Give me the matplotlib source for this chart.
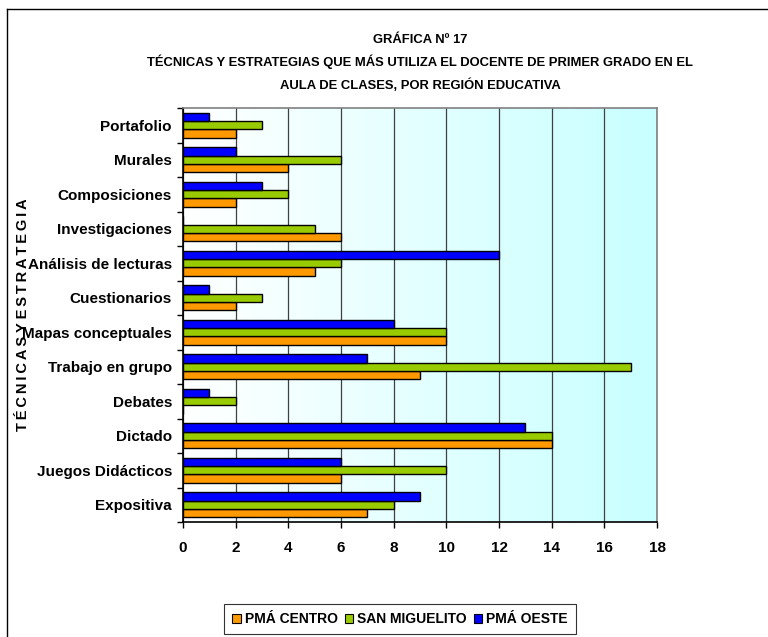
import numpy as np
import matplotlib
matplotlib.use("Agg")
import matplotlib.pyplot as plt
from matplotlib.lines import Line2D
from matplotlib.patches import Patch
from matplotlib.transforms import Bbox, TransformedBbox

# --- data (bottom to top, as drawn) ---
categories = ["Expositiva", "Juegos Didácticos", "Dictado", "Debates",
              "Trabajo en grupo", "Mapas conceptuales", "Cuestionarios",
              "Análisis de lecturas", "Investigaciones", "Composiciones",
              "Murales", "Portafolio"]
pma_centro    = [7, 6, 14, 0, 9, 10, 2, 5, 6, 2, 4, 2]
san_miguelito = [8, 10, 14, 2, 17, 10, 3, 6, 5, 4, 6, 3]
pma_oeste     = [9, 6, 13, 1, 7, 8, 1, 12, 0, 3, 2, 1]
series_names = ["PMÁ CENTRO", "SAN MIGUELITO", "PMÁ OESTE"]
x_ticks = list(range(0, 20, 2))

colors = ["#FF9900", "#99CC00", "#0000FF"]
fonts = ["Liberation Sans", "DejaVu Sans"]

W, H = 768, 637
fig = plt.figure(figsize=(W / 100, H / 100), dpi=100)
ax = fig.add_axes([183 / W, 1 - 522 / H, (657 - 183) / W, (522 - 108) / H])

# --- background gradient white -> light cyan ---
grad = np.linspace(0, 1, 256).reshape(1, -1)
cmap = matplotlib.colors.LinearSegmentedColormap.from_list("bg", ["#FFFFFF", "#C8FFFF"])
ax.imshow(grad, cmap=cmap, aspect="auto", extent=[0, 18, -0.5, len(categories) - 0.5],
          zorder=0)

# --- bars ---
y = np.arange(len(categories))
h = 0.24
for vals, off, col, name in zip([pma_centro, san_miguelito, pma_oeste], [-h, 0, h],
                                colors, series_names):
    ax.barh(y + off, vals, height=h, color=col, edgecolor="black", linewidth=1.0,
            zorder=3, label=name)

ax.set_xlim(0, 18)
ax.set_ylim(-0.5, len(categories) - 0.5)
ax.set_xticks(x_ticks)
ax.set_xticklabels([str(v) for v in x_ticks], fontsize=11, fontweight="bold", family=fonts)
ax.grid(axis="x", color="#404040", linewidth=0.9, zorder=1)

ax.set_yticks(y)
ax.set_yticklabels(categories, fontsize=11, fontweight="bold", family=fonts)
ax.set_yticks(np.arange(-0.5, len(categories), 1), minor=True)
ax.tick_params(axis="y", which="major", length=0, pad=8)
ax.tick_params(axis="y", which="minor", length=4, width=1, color="black", direction="out")
ax.tick_params(axis="x", length=4, width=1, color="black", direction="out", pad=10)

for side in ["top", "right"]:
    ax.spines[side].set_color("#808080")
    ax.spines[side].set_linewidth(1.2)
for side in ["left", "bottom"]:
    ax.spines[side].set_color("black")
    ax.spines[side].set_linewidth(1.2)

# --- title (condensed look in the original, so a slightly smaller size) ---
title_lines = ["GRÁFICA Nº 17",
               "TÉCNICAS Y ESTRATEGIAS QUE MÁS UTILIZA EL DOCENTE DE PRIMER GRADO EN EL",
               "AULA DE CLASES, POR REGIÓN EDUCATIVA"]
for line, ypx in zip(title_lines, [40, 62, 85]):
    fig.text(420 / W, 1 - ypx / H, line, ha="center", va="center",
             fontsize=9.4, fontweight="bold", family=fonts)

# --- y axis title, letter spaced and clipped at the top like the original ---
ylabel = "TÉCNICAS Y ESTRATEGIAS"
spaced = " ".join("\u2009".join(word) for word in ylabel.split(" "))
yl = fig.text(23 / W, 1 - 431 / H, spaced, rotation=90,
              ha="center", va="bottom", fontsize=10.5, fontweight="bold",
              family=fonts)
yl.set_clip_box(TransformedBbox(Bbox([[0, 0], [1, 1 - 200 / H]]), fig.transFigure))
yl.set_clip_on(True)

# --- outer frame (left and top edges visible) ---
fig.add_artist(Line2D([7 / W, 7 / W], [0, 1 - 9 / H], color="black", linewidth=1.0,
                      transform=fig.transFigure))
fig.add_artist(Line2D([7 / W, 1], [1 - 9 / H, 1 - 9 / H], color="black", linewidth=1.0,
                      transform=fig.transFigure))

# --- legend ---
handles = [Patch(facecolor=c, edgecolor="black", linewidth=0.8, label=n)
           for c, n in zip(colors, series_names)]
leg = fig.legend(handles=handles, loc="center", bbox_to_anchor=(400 / W, 1 - 619 / H),
                 ncol=3, fancybox=False, frameon=True, handlelength=0.6, handleheight=0.6,
                 handletextpad=0.3, columnspacing=0.5, borderpad=0.6,
                 prop={"family": fonts, "weight": "bold", "size": 10})
leg.get_frame().set_edgecolor("black")
leg.get_frame().set_linewidth(0.8)

fig.savefig("out.png", dpi=100)
